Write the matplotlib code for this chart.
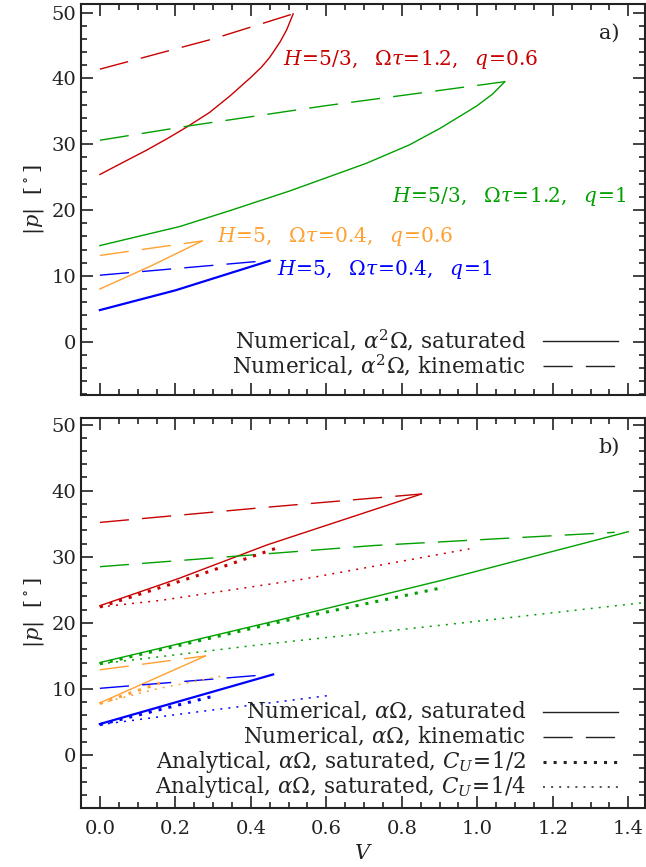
import numpy as np
import matplotlib
matplotlib.use("Agg")
import matplotlib.pyplot as plt

plt.rcParams["font.family"] = "DejaVu Serif"
plt.rcParams["mathtext.fontset"] = "dejavuserif"

RED = "#c80000"
GREEN = "#00a000"
ORANGE = "#ffa030"
BLUE = "#0000ff"

# ---- panel a): alpha^2 Omega, numerical
a_red_sat_V = [0.0, 0.06, 0.124, 0.18, 0.23, 0.29, 0.344, 0.397, 0.428, 0.45, 0.477, 0.495, 0.512]
a_red_sat_p = [25.4, 27.2, 29.1, 30.9, 32.6, 34.8, 37.3, 40.0, 41.7, 43.2, 45.5, 47.4, 49.8]
a_red_kin_V = [0.0, 0.3, 0.512]
a_red_kin_p = [41.4, 46.0, 49.8]

a_green_sat_V = [0.0, 0.212, 0.344, 0.503, 0.706, 0.82, 0.901, 0.998, 1.04, 1.073]
a_green_sat_p = [14.6, 17.5, 19.9, 22.9, 27.1, 29.9, 32.4, 35.8, 37.6, 39.5]
a_green_kin_V = [0.0, 0.238, 0.592, 1.073]
a_green_kin_p = [30.6, 32.8, 35.8, 39.5]

a_orange_sat_V = [0.0, 0.135, 0.271]
a_orange_sat_p = [8.0, 11.5, 15.3]
a_orange_kin_V = [0.0, 0.271]
a_orange_kin_p = [13.1, 15.3]

a_blue_sat_V = [0.0, 0.1, 0.2, 0.3, 0.45]
a_blue_sat_p = [4.8, 6.3, 7.8, 9.6, 12.3]
a_blue_kin_V = [0.0, 0.45]
a_blue_kin_p = [10.1, 12.35]

# ---- panel b): alpha Omega, numerical and analytical
b_red_sat_V = [0.0, 0.208, 0.443, 0.852]
b_red_sat_p = [22.6, 26.7, 31.8, 39.5]
b_red_kin_V = [0.0, 0.443, 0.852]
b_red_kin_p = [35.2, 37.5, 39.5]
b_red_half_V = [0.0, 0.25, 0.472]
b_red_half_p = [22.4, 27.0, 31.4]
b_red_quarter_V = [0.0, 0.161, 0.537, 0.979]
b_red_quarter_p = [22.4, 23.4, 26.6, 31.2]

b_green_sat_V = [0.0, 0.48, 0.91, 1.40]
b_green_sat_p = [14.0, 20.5, 26.5, 33.8]
b_green_kin_V = [0.0, 0.725, 1.364]
b_green_kin_p = [28.5, 31.7, 33.7]
b_green_half_V = [0.0, 0.48, 0.913]
b_green_half_p = [13.8, 20.2, 25.4]
b_green_quarter_V = [0.0, 0.44, 0.913, 1.446]
b_green_quarter_p = [13.8, 16.8, 19.7, 23.1]

b_orange_sat_V = [0.0, 0.28]
b_orange_sat_p = [7.9, 15.0]
b_orange_kin_V = [0.0, 0.28]
b_orange_kin_p = [12.9, 15.0]
b_orange_half_V = [0.0, 0.159]
b_orange_half_p = [7.8, 10.9]
b_orange_quarter_V = [0.0, 0.15, 0.326]
b_orange_quarter_p = [7.8, 10.0, 12.0]

b_blue_sat_V = [0.0, 0.459]
b_blue_sat_p = [4.7, 12.2]
b_blue_kin_V = [0.0, 0.428]
b_blue_kin_p = [10.1, 12.1]
b_blue_half_V = [0.0, 0.30]
b_blue_half_p = [4.6, 8.9]
b_blue_quarter_V = [0.0, 0.24, 0.605]
b_blue_quarter_p = [4.6, 6.4, 9.0]

labels_a = [
    (r"$H\!=\!5/3,\ \ \Omega\tau\!=\!1.2,\ \ q\!=\!0.6$", 0.485, 42.9, RED),
    (r"$H\!=\!5/3,\ \ \Omega\tau\!=\!1.2,\ \ q\!=\!1$", 0.774, 22.0, GREEN),
    (r"$H\!=\!5,\ \ \Omega\tau\!=\!0.4,\ \ q\!=\!0.6$", 0.31, 16.0, ORANGE),
    (r"$H\!=\!5,\ \ \Omega\tau\!=\!0.4,\ \ q\!=\!1$", 0.47, 11.0, BLUE),
]

SOLID = "-"
DASHED = (0, (21, 9.5))
THICKDOT = (0, (1.0, 2.3))
THINDOT = (0, (1.3, 4.0))
INK = "#222222"

fig = plt.figure(figsize=(6.46, 8.67), dpi=100)
ax1 = fig.add_axes([0.1254, 0.5444, 0.873, 0.451])
ax2 = fig.add_axes([0.1254, 0.0681, 0.873, 0.4498])

# panel a
ax1.plot(a_red_sat_V, a_red_sat_p, color=RED, lw=1.0, ls=SOLID)
ax1.plot(a_red_kin_V, a_red_kin_p, color=RED, lw=1.0, ls=DASHED)
ax1.plot(a_green_sat_V, a_green_sat_p, color=GREEN, lw=1.0, ls=SOLID)
ax1.plot(a_green_kin_V, a_green_kin_p, color=GREEN, lw=1.0, ls=DASHED)
ax1.plot(a_orange_sat_V, a_orange_sat_p, color=ORANGE, lw=1.0, ls=SOLID)
ax1.plot(a_orange_kin_V, a_orange_kin_p, color=ORANGE, lw=1.0, ls=DASHED)
ax1.plot(a_blue_sat_V, a_blue_sat_p, color=BLUE, lw=1.6, ls=SOLID)
ax1.plot(a_blue_kin_V, a_blue_kin_p, color=BLUE, lw=1.0, ls=DASHED)

for txt, x, y, c in labels_a:
    ax1.text(x, y, txt, color=c, fontsize=14.5, ha="left", va="center")

# panel b
for V, p, c, lw in [(b_red_sat_V, b_red_sat_p, RED, 1.0),
                    (b_green_sat_V, b_green_sat_p, GREEN, 1.0),
                    (b_orange_sat_V, b_orange_sat_p, ORANGE, 1.0),
                    (b_blue_sat_V, b_blue_sat_p, BLUE, 1.6)]:
    ax2.plot(V, p, color=c, lw=lw, ls=SOLID)
for V, p, c in [(b_red_kin_V, b_red_kin_p, RED),
                (b_green_kin_V, b_green_kin_p, GREEN),
                (b_orange_kin_V, b_orange_kin_p, ORANGE),
                (b_blue_kin_V, b_blue_kin_p, BLUE)]:
    ax2.plot(V, p, color=c, lw=1.0, ls=DASHED)
for V, p, c in [(b_red_half_V, b_red_half_p, RED),
                (b_green_half_V, b_green_half_p, GREEN),
                (b_orange_half_V, b_orange_half_p, ORANGE),
                (b_blue_half_V, b_blue_half_p, BLUE)]:
    ax2.plot(V, p, color=c, lw=2.2, ls=THICKDOT)
for V, p, c in [(b_red_quarter_V, b_red_quarter_p, RED),
                (b_green_quarter_V, b_green_quarter_p, GREEN),
                (b_orange_quarter_V, b_orange_quarter_p, ORANGE),
                (b_blue_quarter_V, b_blue_quarter_p, BLUE)]:
    ax2.plot(V, p, color=c, lw=1.1, ls=THINDOT)

# legends (text right aligned, sample line on the right)
legend_a = [("Numerical, $\\alpha^2\\Omega$, saturated", SOLID, 1.0),
            ("Numerical, $\\alpha^2\\Omega$, kinematic", DASHED, 1.0)]
legend_b = [("Numerical, $\\alpha\\Omega$, saturated", SOLID, 1.0),
            ("Numerical, $\\alpha\\Omega$, kinematic", DASHED, 1.0),
            ("Analytical, $\\alpha\\Omega$, saturated, $C_U\\!=\\!1/2$", THICKDOT, 2.2),
            ("Analytical, $\\alpha\\Omega$, saturated, $C_U\\!=\\!1/4$", THINDOT, 1.1)]

for ax, entries, ys in [(ax1, legend_a, [0.138, 0.074]),
                        (ax2, legend_b, [0.247, 0.183, 0.119, 0.055])]:
    for (txt, ls, lw), y in zip(entries, ys):
        ax.text(0.789, y, txt, transform=ax.transAxes, ha="right", va="center",
                fontsize=15.5, color=INK)
        ax.plot([0.819, 0.952], [y, y], transform=ax.transAxes, color=INK,
                lw=lw, ls=ls)

ax1.text(0.936, 0.926, "a)", transform=ax1.transAxes, ha="center", va="center",
         fontsize=15, color=INK)
ax2.text(0.936, 0.926, "b)", transform=ax2.transAxes, ha="center", va="center",
         fontsize=15, color=INK)

for ax, ylim in [(ax1, (-8.1, 51.3)), (ax2, (-7.9, 51.0))]:
    ax.set_xlim(-0.05, 1.444)
    ax.set_ylim(*ylim)
    ax.set_xticks(np.arange(0, 1.41, 0.2))
    ax.set_xticks(np.arange(0, 1.44, 0.05), minor=True)
    ax.set_yticks(np.arange(0, 51, 10))
    ax.set_yticks(np.arange(-8, 51, 2), minor=True)
    ax.tick_params(which="both", direction="in", top=True, right=True,
                   labelsize=14, colors=INK)
    ax.tick_params(which="major", length=8.5, width=1.2)
    ax.tick_params(which="minor", length=4.5, width=1.2)
    for s in ax.spines.values():
        s.set_linewidth(1.5)
        s.set_color(INK)
    ax.set_ylabel(r"$|p|\ \ [^\circ]$", fontsize=15, labelpad=4, color=INK)

ax1.set_xticklabels([])
ax2.set_xticklabels(["0.0", "0.2", "0.4", "0.6", "0.8", "1.0", "1.2", "1.4"])
ax2.tick_params(axis="x", pad=9)
ax2.set_xlabel(r"$V$", fontsize=15, labelpad=4, color=INK)

fig.savefig("out.png", dpi=100)
